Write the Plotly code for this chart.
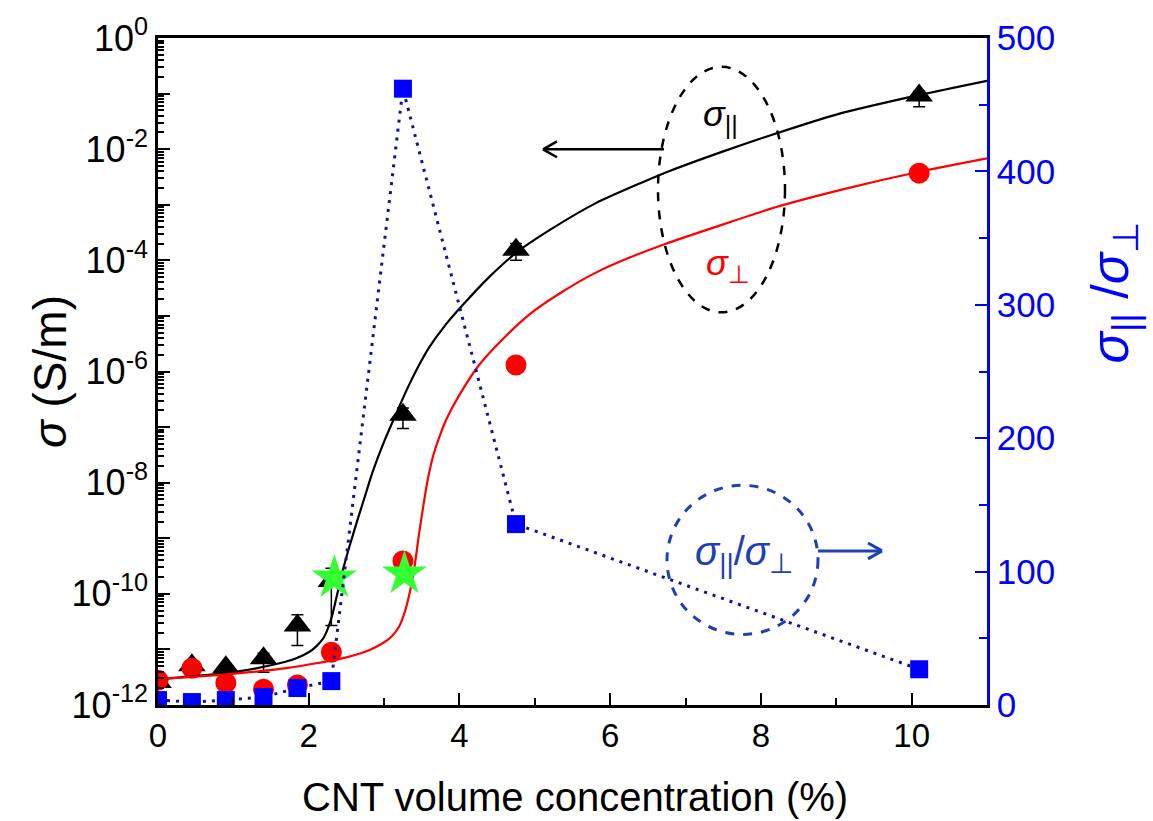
import plotly.graph_objects as go

# ---------------- data ----------------
conc = [0.0, 0.45, 0.9, 1.4, 1.85, 2.3, 3.25, 4.75, 10.1]

sigma_par = [2.6e-12, 5.2e-12, 4.8e-12, 6.9e-12, 2.7e-11, 1.7e-10, 1.66e-7, 1.55e-4, 9.2e-2]
sigma_par_lo = [2.4e-12, 4.6e-12, 4.4e-12, 3.9e-12, 1.18e-11, 2.7e-11, 9.4e-8, 1.0e-4, 5.8e-2]
sigma_par_hi = [2.8e-12, 5.8e-12, 5.2e-12, 8.5e-12, 4.2e-11, 2.9e-10, 2.2e-7, 2.0e-4, 1.1e-1]

sigma_perp = [2.8e-12, 4.6e-12, 2.5e-12, 1.93e-12, 2.3e-12, 8.9e-12, 3.9e-10, 1.31e-6, 3.7e-3]

ratio = [3.7, 2.2, 3.7, 6.0, 12.7, 17.9, 462.0, 135.6, 26.8]

star_x = [2.34, 3.27]
star_y = [1.94e-10, 2.3e-10]

par_fit_x = [0, 0.5, 1.0, 1.5, 1.8, 2.0, 2.1, 2.2, 2.3, 2.37, 2.45, 2.55, 2.65, 2.75,
             2.85, 3.0, 3.16, 3.3, 3.45, 3.6, 3.8, 4.04, 4.4, 4.77, 5.2, 5.81, 6.4,
             6.78, 7.5, 8.16, 9.0, 10.12, 11.0]
par_fit_y = [2.92e-12, 3.30e-12, 3.89e-12, 5.19e-12, 6.65e-12, 8.87e-12, 1.135e-11,
             1.64e-11, 3.60e-11, 8.89e-11, 2.59e-10, 7.89e-10, 2.21e-9, 5.93e-9,
             1.59e-8, 5.48e-8, 1.74e-7, 4.67e-7, 1.20e-6, 2.74e-6, 6.50e-6, 1.55e-5,
             5.10e-5, 1.43e-4, 3.53e-4, 1.07e-3, 2.44e-3, 4.01e-3, 9.14e-3, 1.84e-2,
             4.19e-2, 9.55e-2, 0.170]

perp_fit_x = [0, 0.6, 1.22, 1.7, 2.1, 2.5, 2.8, 2.98, 3.1, 3.2, 3.28, 3.34, 3.4, 3.46,
              3.52, 3.58, 3.66, 3.75, 3.83, 4.0, 4.26, 4.6, 4.93, 5.35, 5.81, 6.25,
              6.74, 7.4, 8.16, 9.1, 10.13, 11.0]
perp_fit_y = [2.92e-12, 3.30e-12, 3.89e-12, 4.59e-12, 5.64e-12, 7.21e-12, 9.64e-12,
              1.29e-11, 1.71e-11, 2.59e-11, 5.00e-11, 1.05e-10, 2.82e-10, 1.10e-9,
              3.78e-9, 1.15e-8, 3.34e-8, 7.62e-8, 1.41e-7, 3.79e-7, 1.31e-6, 4.14e-6,
              1.07e-5, 2.64e-5, 6.01e-5, 1.11e-4, 1.99e-4, 4.00e-4, 8.73e-4, 1.91e-3,
              4.01e-3, 6.84e-3]

x_ticks = [0, 2, 4, 6, 8, 10]
x_minor = [1, 3, 5, 7, 9, 11]
y_decades = list(range(-12, 1))
y2_ticks = [0, 100, 200, 300, 400, 500]
y2_minor = [50, 150, 250, 350, 450]

# ---------------- layout geometry ----------------
W, H = 1153, 821
L, R, T, B = 158, 987, 34, 705
FONT = "Liberation Sans, Arial, Helvetica, sans-serif"
BLUE = "#0000FF"
ANN_BLUE = "#1e40b4"


def px(xp, yp):
    return (xp - L) / (R - L), (B - yp) / (B - T)


fig = go.Figure()

err_plus = [h - v for h, v in zip(sigma_par_hi, sigma_par)]
err_minus = [v - l for v, l in zip(sigma_par, sigma_par_lo)]

fig.add_trace(go.Scatter(
    x=conc, y=sigma_par, mode="markers",
    marker=dict(symbol="triangle-up", size=24, color="black"),
    error_y=dict(type="data", array=err_plus, arrayminus=err_minus,
                 color="black", thickness=1.5, width=6),
    showlegend=False))

fig.add_trace(go.Scatter(
    x=conc, y=sigma_perp, mode="markers",
    marker=dict(symbol="circle", size=21, color="#FF0000"),
    showlegend=False))

fig.add_trace(go.Scatter(
    x=par_fit_x, y=par_fit_y, mode="lines",
    line=dict(color="black", width=2.2, shape="spline", smoothing=0.6),
    showlegend=False))

fig.add_trace(go.Scatter(
    x=perp_fit_x, y=perp_fit_y, mode="lines",
    line=dict(color="#FF0000", width=2.2, shape="spline", smoothing=0.6),
    showlegend=False))

fig.add_trace(go.Scatter(
    x=conc, y=ratio, mode="lines", yaxis="y2",
    line=dict(color="#10109a", width=3, dash="3px,6px"),
    showlegend=False))

fig.add_trace(go.Scatter(
    x=conc, y=ratio, mode="markers", yaxis="y2",
    marker=dict(symbol="square", size=18, color=BLUE),
    showlegend=False))

fig.add_trace(go.Scatter(
    x=star_x, y=star_y, mode="markers",
    marker=dict(symbol="star", size=34, color="#33ff33"),
    showlegend=False))

# ---------------- axes ----------------
minor_y = [k * 10.0 ** n for n in range(-12, 0) for k in range(2, 10)]
ytext = [f"10<sup>{d}</sup>" if d % 2 == 0 else "" for d in y_decades]

fig.update_layout(
    width=W, height=H,
    margin=dict(l=L, r=W - R, t=T, b=H - B),
    paper_bgcolor="white", plot_bgcolor="white",
    font=dict(family=FONT, color="black"),
    xaxis=dict(
        range=[0, 11], showgrid=False, zeroline=False,
        showline=True, linecolor="black", linewidth=2.5, mirror=True,
        ticks="inside", ticklen=12, tickwidth=2, tickcolor="black",
        tickmode="array", tickvals=x_ticks, ticktext=[str(v) for v in x_ticks],
        tickfont=dict(size=33, family=FONT),
        minor=dict(tickmode="array", tickvals=x_minor, ticks="inside",
                   ticklen=7, tickwidth=2, tickcolor="black"),
    ),
    yaxis=dict(
        type="log", range=[-12, 0], showgrid=False, zeroline=False,
        showline=True, linecolor="black", linewidth=2.5,
        ticks="inside", ticklen=12, tickwidth=2, tickcolor="black",
        tickmode="array", tickvals=[10.0 ** d for d in y_decades], ticktext=ytext,
        tickfont=dict(size=36, family=FONT),
        minor=dict(tickmode="array", tickvals=minor_y, ticks="inside",
                   ticklen=6, tickwidth=1.5, tickcolor="black"),
    ),
    yaxis2=dict(
        overlaying="y", side="right", range=[0, 500], showgrid=False, zeroline=False,
        showline=True, linecolor=BLUE, linewidth=2.5,
        ticks="inside", ticklen=12, tickwidth=2, tickcolor=BLUE,
        tickmode="array", tickvals=y2_ticks, ticktext=[str(v) for v in y2_ticks],
        tickfont=dict(size=35, family=FONT, color=BLUE),
        minor=dict(tickmode="array", tickvals=y2_minor, ticks="inside",
                   ticklen=8, tickwidth=2, tickcolor=BLUE),
    ),
)

# ---------------- annotations ----------------
def ann(xp, yp, text, size, color="black", angle=0):
    x, y = px(xp, yp)
    fig.add_annotation(x=x, y=y, xref="paper", yref="paper", text=text,
                       showarrow=False, textangle=angle,
                       font=dict(size=size, color=color, family=FONT),
                       xanchor="center", yanchor="middle")


ann(575, 798, "CNT volume concentration (%)", 40)
ann(50, 370, "<i>σ</i> (S/m)", 46, angle=-90)
ann(1114, 290, "<i>σ</i><sub>||</sub> /<i>σ</i><sub>⊥</sub>", 52, color=BLUE, angle=-90)
ann(720, 112, "<i>σ</i><sub>||</sub>", 36)
ann(728, 262, "<i>σ</i><sub>⊥</sub>", 36, color="#FF0000")
ann(744, 553, "<i>σ</i><sub>||</sub>/<i>σ</i><sub>⊥</sub>", 40, color=ANN_BLUE)


def ellipse(x0, y0, x1, y1, color, width):
    a0, b0 = px(x0, y1)
    a1, b1 = px(x1, y0)
    fig.add_shape(type="circle", xref="paper", yref="paper",
                  x0=a0, y0=b0, x1=a1, y1=b1,
                  line=dict(color=color, width=width, dash="dash"))


def seg(x0, y0, x1, y1, color, width):
    a0, b0 = px(x0, y0)
    a1, b1 = px(x1, y1)
    fig.add_shape(type="line", xref="paper", yref="paper",
                  x0=a0, y0=b0, x1=a1, y1=b1,
                  line=dict(color=color, width=width))


ellipse(658, 63, 785, 310, "black", 2.5)
ellipse(667, 484, 818, 634, ANN_BLUE, 3)

# black arrow pointing left
seg(543, 146, 664, 146, "black", 2.5)
seg(543, 146, 557, 138, "black", 2.5)
seg(543, 146, 557, 154, "black", 2.5)
# blue arrow pointing right
seg(818, 550, 882, 550, ANN_BLUE, 3)
seg(882, 550, 868, 542, ANN_BLUE, 3)
seg(882, 550, 868, 558, ANN_BLUE, 3)

fig.write_html("out.html", config={"displayModeBar": False},
               post_script="document.body.style.margin='0px';")
